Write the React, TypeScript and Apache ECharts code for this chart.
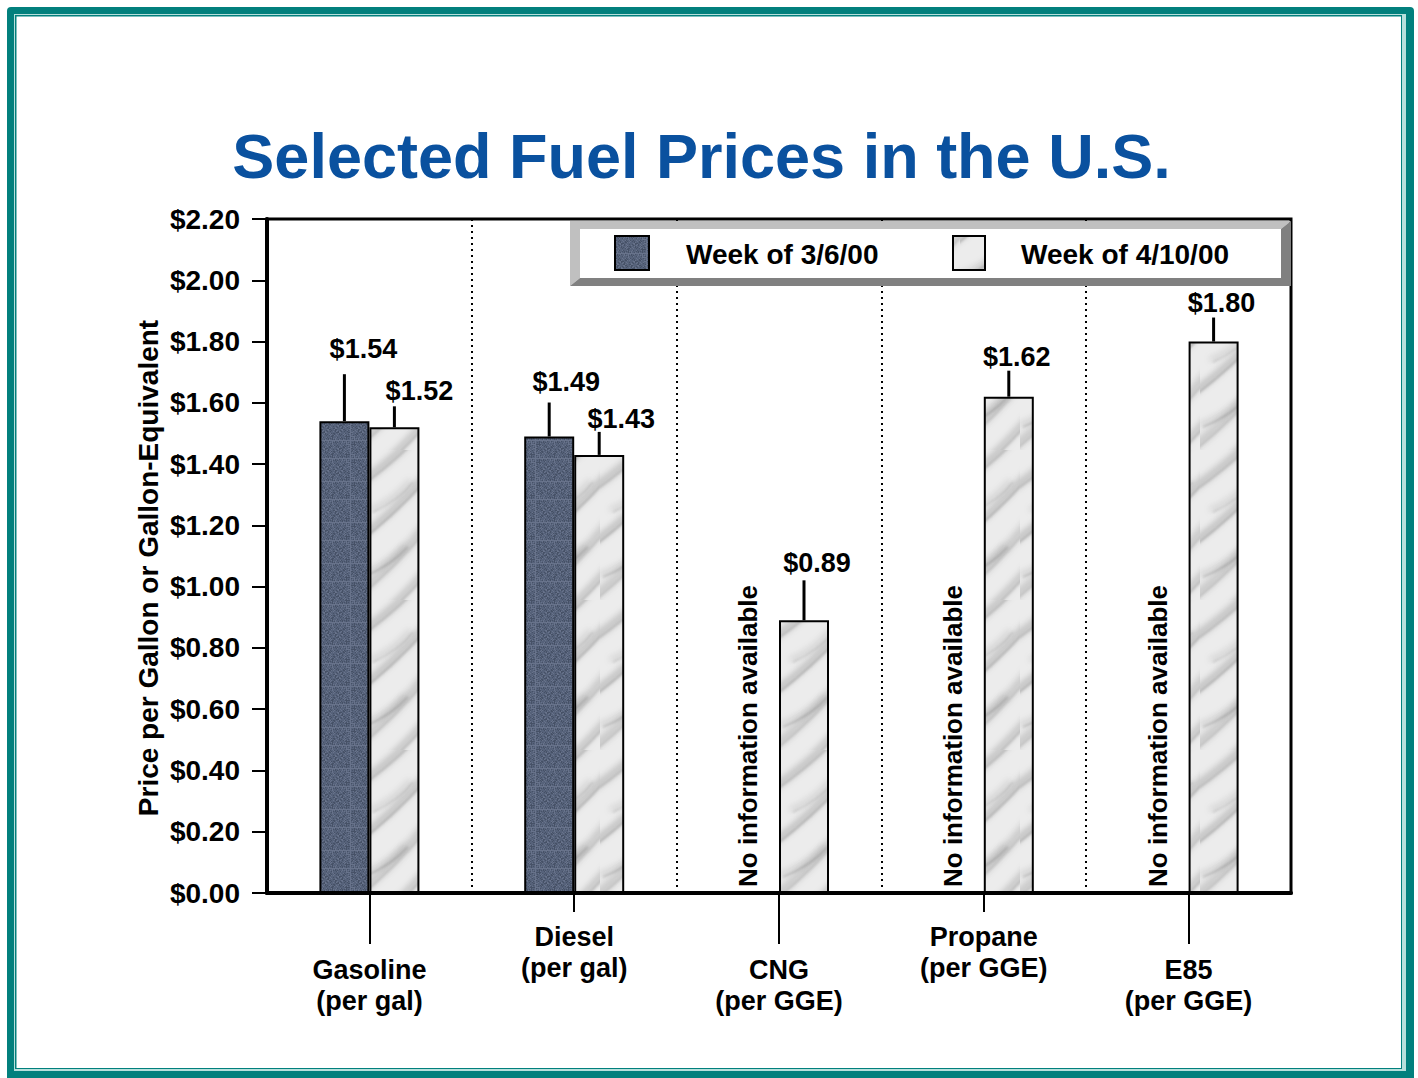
import React, { useEffect, useRef } from "react";
import * as echarts from "echarts";

// ---------- data ----------
const categories = [
  "Gasoline\n(per gal)",
  "Diesel\n(per gal)",
  "CNG\n(per GGE)",
  "Propane\n(per GGE)",
  "E85\n(per GGE)",
];
const seriesNames = ["Week of 3/6/00", "Week of 4/10/00"];
const week0306 = [1.54, 1.49, null, null, null];
const week0410 = [1.52, 1.43, 0.89, 1.62, 1.8];
const yTicks = { min: 0, max: 2.2, interval: 0.2 };
const noInfoText = "No information available";
const title = "Selected Fuel Prices in the U.S.";
const yName = "Price per Gallon or Gallon-Equivalent";

// ---------- label styling (leader length, label gap, label x-shift in px) ----------
const labelStyle0 = [
  { lead: 47, gap: 25, dx: 19 },
  { lead: 34, gap: 21, dx: 17 },
  null,
  null,
  null,
];
const labelStyle1 = [
  { lead: 21, gap: 15, dx: 25 },
  { lead: 23, gap: 13, dx: 22 },
  { lead: 40, gap: 17, dx: 13 },
  { lead: 26, gap: 14, dx: 8 },
  { lead: 24, gap: 15, dx: 8 },
];

const FONT = "'Liberation Sans', Arial, Helvetica, sans-serif";
const BAR_W = 50;

function darkTexture(): HTMLCanvasElement {
  const c = document.createElement("canvas");
  c.width = 37;
  c.height = 41;
  const ctx = c.getContext("2d")!;
  ctx.fillStyle = "#56627a";
  ctx.fillRect(0, 0, 37, 41);
  for (let i = 0; i < 37; i++) {
    for (let j = 0; j < 41; j++) {
      const h = ((i * 73 + j * 151 + i * j * 29) % 23) / 23;
      if (h > 0.75) ctx.fillStyle = "rgba(150,162,182,0.28)";
      else if (h < 0.2) ctx.fillStyle = "rgba(30,38,52,0.28)";
      else continue;
      ctx.fillRect(i, j, 1, 1);
    }
  }
  return c;
}

function marbleTexture(): HTMLCanvasElement {
  const c = document.createElement("canvas");
  c.width = 60;
  c.height = 150;
  const ctx = c.getContext("2d")!;
  ctx.fillStyle = "#ececec";
  ctx.fillRect(0, 0, 60, 150);
  const veins: [number, number, number, number, number, number][] = [
    [-10, 40, 70, -30, 7, 0.3],
    [-10, 95, 70, 20, 5, 0.4],
    [-10, 150, 70, 70, 8, 0.25],
    [-10, 190, 70, 115, 5, 0.35],
    [10, 60, 50, 30, 3, 0.25],
    [0, 125, 45, 95, 3, 0.3],
  ];
  ctx.filter = "blur(3px)";
  for (const [x0, y0, x1, y1, w, a] of veins) {
    ctx.strokeStyle = `rgba(90,90,90,${a})`;
    ctx.lineWidth = w;
    ctx.beginPath();
    ctx.moveTo(x0, y0);
    ctx.quadraticCurveTo((x0 + x1) / 2 + 6, (y0 + y1) / 2 + 4, x1, y1);
    ctx.stroke();
  }
  ctx.filter = "blur(1px)";
  for (const [x0, y0, x1, y1, , a] of veins) {
    ctx.strokeStyle = `rgba(80,80,80,${a})`;
    ctx.lineWidth = 1.2;
    ctx.beginPath();
    ctx.moveTo(x0 + 3, y0 + 2);
    ctx.quadraticCurveTo((x0 + x1) / 2 + 8, (y0 + y1) / 2 + 6, x1 + 3, y1 + 2);
    ctx.stroke();
  }
  ctx.filter = "none";
  return c;
}

export default function App() {
  const ref = useRef<HTMLDivElement>(null);

  useEffect(() => {
    if (!ref.current) return;
    const chart = echarts.init(ref.current, undefined, { renderer: "svg" });

    const darkFill: any = { type: "pattern", image: darkTexture(), repeat: "repeat" };
    const lightFill: any = { type: "pattern", image: marbleTexture(), repeat: "repeat" };

    type Ann = { cat: number; value: number; side: number; lead: number; gap: number; dx: number };
    const anns: Ann[] = [];
    week0306.forEach((v, i) => {
      const s = labelStyle0[i];
      if (v != null && s) anns.push({ cat: i, value: v, side: 0, ...s });
    });
    week0410.forEach((v, i) => {
      const s = labelStyle1[i];
      if (v != null && s) anns.push({ cat: i, value: v, side: 1, ...s });
    });
    const noInfoCats = week0306
      .map((v, i) => (v == null ? i : -1))
      .filter((i) => i >= 0);

    const labelFont = `bold 27px ${FONT}`;

    const catLabel = {
      lineHeight: 31,
      color: "#000",
      fontSize: 27,
      fontWeight: "bold",
      fontFamily: FONT,
    };

    const option: any = {
      animation: false,
      backgroundColor: "#ffffff",
      grid: {
        left: 267,
        right: 127,
        top: 219,
        bottom: 185,
        show: true,
        borderColor: "#000",
        borderWidth: 3,
        backgroundColor: "transparent",
        containLabel: false,
      },
      xAxis: [
        {
          type: "category",
          data: categories,
          position: "bottom",
          axisLine: { show: true, onZero: false, lineStyle: { color: "#000", width: 4 } },
          axisTick: {
            show: true,
            alignWithLabel: true,
            length: 51,
            interval: (i: number) => i % 2 === 0,
            lineStyle: { color: "#000", width: 2 },
          },
          axisLabel: {
            ...catLabel,
            interval: (i: number) => i % 2 === 0,
            margin: 61,
          },
          splitLine: {
            show: true,
            interval: 0,
            lineStyle: { color: "#000", width: 2, type: [2, 4] },
          },
        },
        {
          type: "category",
          data: categories,
          position: "bottom",
          axisLine: { show: false, onZero: false },
          axisTick: {
            show: true,
            alignWithLabel: true,
            length: 19,
            interval: (i: number) => i % 2 === 1,
            lineStyle: { color: "#000", width: 2 },
          },
          axisLabel: {
            ...catLabel,
            interval: (i: number) => i % 2 === 1,
            margin: 28,
          },
          splitLine: { show: false },
        },
      ],
      yAxis: {
        type: "value",
        min: yTicks.min,
        max: yTicks.max,
        interval: yTicks.interval,
        axisLine: { show: true, lineStyle: { color: "#000", width: 4 } },
        axisTick: { show: true, length: 15, lineStyle: { color: "#000", width: 2 } },
        axisLabel: {
          margin: 27,
          color: "#000",
          fontSize: 28,
          fontWeight: "bold",
          fontFamily: FONT,
          formatter: (v: number) => "$" + v.toFixed(2),
        },
        splitLine: { show: false },
      },
      series: [
        {
          name: seriesNames[0],
          type: "bar",
          data: week0306,
          barWidth: BAR_W,
          barGap: "0%",
          itemStyle: { color: darkFill, borderColor: "#000", borderWidth: 2 },
          z: 3,
        },
        {
          name: seriesNames[1],
          type: "bar",
          data: week0410,
          barWidth: BAR_W,
          barGap: "0%",
          itemStyle: { color: lightFill, borderColor: "#000", borderWidth: 2 },
          z: 3,
        },
        {
          type: "custom",
          name: "values",
          data: anns.map((a) => [a.cat, a.value]),
          z: 6,
          silent: true,
          renderItem: (params: any, api: any) => {
            const a = anns[params.dataIndex];
            const pt = api.coord([a.cat, a.value]);
            const x = pt[0] + (a.side === 0 ? -BAR_W / 2 : BAR_W / 2);
            const yTop = pt[1];
            return {
              type: "group",
              children: [
                {
                  type: "line",
                  shape: { x1: x, y1: yTop, x2: x, y2: yTop - a.lead },
                  style: { stroke: "#000", lineWidth: 3 },
                },
                {
                  type: "text",
                  x: x + a.dx,
                  y: yTop - a.lead - a.gap,
                  style: {
                    text: "$" + a.value.toFixed(2),
                    font: labelFont,
                    fill: "#000",
                    align: "center",
                    verticalAlign: "middle",
                  },
                },
              ],
            };
          },
        },
        {
          type: "custom",
          name: "noinfo",
          data: noInfoCats.map((i) => [i, 0]),
          z: 6,
          silent: true,
          renderItem: (params: any, api: any) => {
            const cat = noInfoCats[params.dataIndex];
            const pt = api.coord([cat, 0]);
            return {
              type: "text",
              x: pt[0] - BAR_W / 2 - 6,
              y: pt[1] - 6,
              rotation: Math.PI / 2,
              style: {
                text: noInfoText,
                font: `bold 26px ${FONT}`,
                fill: "#000",
                align: "left",
                verticalAlign: "middle",
              },
            };
          },
        },
      ],
      graphic: [
        // page frame
        { type: "rect", z: -20, silent: true, shape: { x: 7, y: 7, width: 1407, height: 1075, r: 4 }, style: { fill: "#02807d" } },
        { type: "rect", z: -19, silent: true, shape: { x: 14, y: 14, width: 1392, height: 1057 }, style: { fill: "#b7e0dc" } },
        { type: "rect", z: -18, silent: true, shape: { x: 15, y: 15, width: 1387, height: 1054 }, style: { fill: "#02807d" } },
        { type: "rect", z: -17, silent: true, shape: { x: 16.5, y: 16.5, width: 1384.5, height: 1051.5 }, style: { fill: "#ffffff" } },
        // title
        {
          type: "text",
          z: 20,
          x: 701.5,
          y: 156,
          style: {
            text: title,
            font: `bold 63px ${FONT}`,
            fill: "#0a519f",
            align: "center",
            verticalAlign: "middle",
          },
        },
        // y axis name
        {
          type: "text",
          z: 20,
          x: 148,
          y: 568,
          rotation: Math.PI / 2,
          style: {
            text: yName,
            font: `bold 28px ${FONT}`,
            fill: "#000",
            align: "center",
            verticalAlign: "middle",
          },
        },
        // legend box with bevel
        {
          type: "polygon",
          z: 30,
          silent: true,
          shape: { points: [[570, 221], [1291, 221], [1281, 229], [580, 229], [580, 278], [570, 286]] },
          style: { fill: "#c0c0c0" },
        },
        {
          type: "polygon",
          z: 30,
          silent: true,
          shape: { points: [[1291, 221], [1291, 286], [570, 286], [580, 278], [1281, 278], [1281, 229]] },
          style: { fill: "#808080" },
        },
        { type: "rect", z: 30, silent: true, shape: { x: 580, y: 229, width: 701, height: 49 }, style: { fill: "#ffffff" } },
        { type: "rect", z: 31, silent: true, shape: { x: 615, y: 236, width: 34, height: 34 }, style: { fill: darkFill, stroke: "#000", lineWidth: 2 } },
        {
          type: "text",
          z: 31,
          x: 686,
          y: 254,
          style: { text: seriesNames[0], font: `bold 28px ${FONT}`, fill: "#000", align: "left", verticalAlign: "middle" },
        },
        { type: "rect", z: 31, silent: true, shape: { x: 953, y: 236, width: 32, height: 34 }, style: { fill: lightFill, stroke: "#000", lineWidth: 2 } },
        {
          type: "text",
          z: 31,
          x: 1021,
          y: 254,
          style: { text: seriesNames[1], font: `bold 28px ${FONT}`, fill: "#000", align: "left", verticalAlign: "middle" },
        },
      ],
    };

    chart.setOption(option);
    return () => chart.dispose();
  }, []);

  return (
    <div
      ref={ref}
      style={{ position: "absolute", left: 0, top: 0, width: 1418, height: 1078, background: "#fff" }}
    />
  );
}
